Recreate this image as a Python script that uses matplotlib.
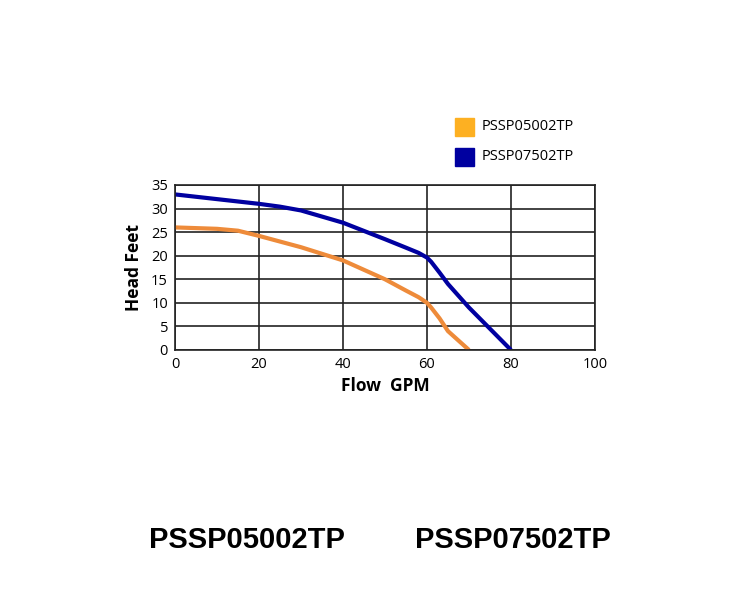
import matplotlib
matplotlib.use("Agg")
import matplotlib.pyplot as plt
from matplotlib.patches import Rectangle

# Pump curve data
models = ["PSSP05002TP", "PSSP07502TP"]
flow_05 = [0, 10, 15, 20, 30, 40, 50, 55, 58, 60, 61, 63, 65, 70]
head_05 = [26, 25.7, 25.3, 24.2, 21.8, 19, 15, 12.6, 11.2, 10, 9.0, 6.7, 4, 0]
flow_07 = [0, 10, 20, 25, 30, 40, 50, 55, 58, 60, 61, 63, 65, 70, 75, 80]
head_07 = [33, 32, 31, 30.4, 29.6, 27, 23.5, 21.7, 20.6, 19.6, 18.7, 16.4, 14, 9, 4.5, 0]

line_colors = ["#EE8B3A", "#0000A0"]
legend_colors = ["#FDB022", "#0000A0"]

plt.rcParams['font.family'] = ['Open Sans', 'DejaVu Sans']

fig = plt.figure(figsize=(7.5, 6), dpi=100)
ax = fig.add_axes([0.2333, 0.4167, 0.56, 0.275])

ax.plot(flow_05, head_05, color=line_colors[0], lw=3, solid_capstyle='butt')
ax.plot(flow_07, head_07, color=line_colors[1], lw=3, solid_capstyle='butt')

ax.set_xlim(0, 100)
ax.set_ylim(0, 35)
ax.set_xticks(range(0, 101, 20))
ax.set_yticks(range(0, 36, 5))
ax.grid(True, color='#222222', lw=1.2)
ax.set_axisbelow(True)
ax.tick_params(labelsize=10.5, length=0, pad=5)
for s in ax.spines.values():
    s.set_color('#222222')
    s.set_linewidth(1.2)

ax.set_xlabel("Flow  GPM", fontsize=12.5, fontweight='bold', labelpad=4)
ax.set_ylabel("Head Feet", fontsize=12.5, fontweight='bold', labelpad=6)

# legend drawn as squares in figure coords
for i, (name, c) in enumerate(zip(models, legend_colors)):
    y = 600 - 118 - 30 * i
    fig.patches.append(Rectangle((455 / 750, (y - 18) / 600), 19 / 750, 18 / 600,
                                 transform=fig.transFigure, color=c))
    fig.text(482 / 750, (y - 9) / 600, name, fontsize=10.5, va='center', ha='left')

# big model names at the bottom
fig.text(247 / 750, 1 - 540 / 600, models[0], fontsize=21, fontweight='bold',
         family='Liberation Sans', ha='center', va='center')
fig.text(513 / 750, 1 - 540 / 600, models[1], fontsize=21, fontweight='bold',
         family='Liberation Sans', ha='center', va='center')

fig.savefig("out.png", dpi=100)
